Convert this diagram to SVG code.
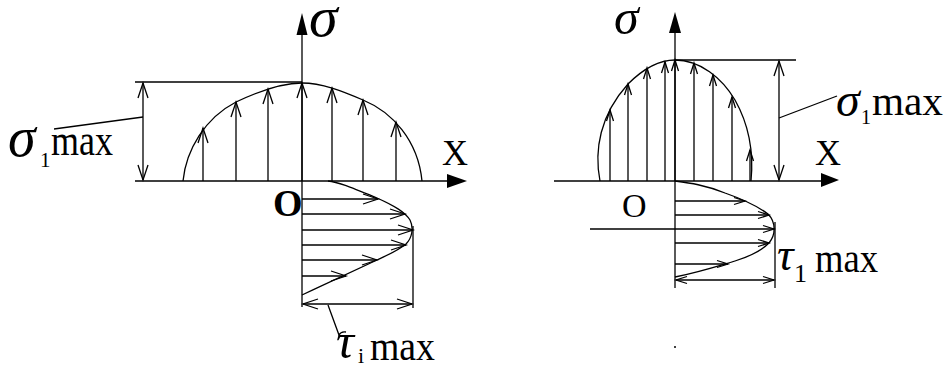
<svg xmlns="http://www.w3.org/2000/svg" width="952" height="365" viewBox="0 0 952 365">
<defs>
<style>
.ln{stroke:#000;stroke-width:1.3;fill:none}
.t{font-family:"Liberation Serif","Times New Roman",serif;fill:#000}
.it{font-style:italic}
.la{marker-end:url(#big)}
.sa{marker-end:url(#small)}
.dl{marker-start:url(#big);marker-end:url(#big)}
.ds{marker-start:url(#small);marker-end:url(#small)}
</style>
<marker id="big" markerUnits="userSpaceOnUse" markerWidth="20" markerHeight="14" refX="0" refY="0" viewBox="-16 -7 20 14" orient="auto-start-reverse" overflow="visible">
<path d="M-15,-5 L0,0 L-15,5" fill="none" stroke="#000" stroke-width="1.3"/>
</marker>
<marker id="small" markerUnits="userSpaceOnUse" markerWidth="14" markerHeight="10" refX="0" refY="0" viewBox="-12 -5 14 10" orient="auto-start-reverse" overflow="visible">
<path d="M-11,-3.5 L0,0 L-11,3.5" fill="none" stroke="#000" stroke-width="1.3"/>
</marker>
</defs>
<rect width="952" height="365" fill="#fff"/>

<g id="left-axes">
<line class="ln" x1="302" y1="30" x2="302" y2="307"/>
<polygon points="302,13 296.5,35 307.5,35" fill="#000"/>
<line class="ln" x1="135" y1="181" x2="450" y2="181"/>
<polygon points="467,181 447,174 447,188" fill="#000"/>
<text class="t it" x="309" y="36" font-size="58">σ</text>
<text class="t" x="442" y="165" font-size="36">X</text>
<text class="t" x="273" y="216" font-size="38" font-weight="bold">O</text>
</g>

<g id="left-sigma">
<path class="ln" d="M183,181 C186,150 205,118 236,102 C255,93 280,83 302,83 C322,83 342,91 363,100 C392,112 418,140 422,181"/>
<line class="ln la" x1="203" y1="181" x2="203" y2="128"/>
<line class="ln la" x1="236" y1="181" x2="236" y2="102"/>
<line class="ln la" x1="268" y1="181" x2="268" y2="89"/>
<line class="ln la" x1="302" y1="181" x2="302" y2="83"/>
<line class="ln la" x1="332" y1="181" x2="332" y2="88"/>
<line class="ln la" x1="363" y1="181" x2="363" y2="100"/>
<line class="ln la" x1="396" y1="181" x2="396" y2="122"/>
</g>

<g id="left-sigma-max">
<line class="ln" x1="135" y1="82" x2="302" y2="82"/>
<line class="ln dl" x1="143" y1="83" x2="143" y2="180"/>
<line class="ln" x1="143" y1="117" x2="54" y2="129"/>
<text class="t it" x="8" y="156" font-size="56">σ</text>
<text class="t" x="40" y="167" font-size="21">1</text>
<text class="t" x="51" y="155" font-size="44" textLength="62" lengthAdjust="spacingAndGlyphs">max</text>
</g>

<g id="left-tau">
<path class="ln" d="M328,181 C338,182 350,187 377,198 C395,206 405,212 410,220 C414,228 412,238 406,244 C396,252 385,256 377,260 C360,268 330,282 302,295"/>
<line class="ln la" x1="302" y1="199" x2="378" y2="199"/>
<line class="ln la" x1="302" y1="214" x2="405" y2="214"/>
<line class="ln la" x1="302" y1="230" x2="413" y2="230"/>
<line class="ln la" x1="302" y1="245" x2="406" y2="245"/>
<line class="ln la" x1="302" y1="260" x2="377" y2="260"/>
<line class="ln la" x1="302" y1="276" x2="346" y2="276"/>
</g>

<g id="left-tau-max">
<line class="ln" x1="413" y1="226" x2="413" y2="308"/>
<line class="ln dl" x1="303" y1="304" x2="412" y2="304"/>
<path class="ln" d="M328,305 L339,335 Q341,331 346,332"/>
<text class="t it" x="336" y="358" font-size="50">τ</text>
<text class="t" x="358" y="363" font-size="22">i</text>
<text class="t" x="370" y="360" font-size="42" textLength="65" lengthAdjust="spacingAndGlyphs">max</text>
</g>

<g id="right-axes">
<line class="ln" x1="675" y1="30" x2="675" y2="288"/>
<polygon points="675,12 669,33 681,33" fill="#000"/>
<line class="ln" x1="554" y1="181" x2="823" y2="181"/>
<polygon points="839,180 821,173 821,187" fill="#000"/>
<text class="t it" x="614" y="34" font-size="50">σ</text>
<text class="t" x="815" y="165" font-size="36">X</text>
<text class="t" x="622" y="217" font-size="34">O</text>
<line class="ln" x1="590" y1="229" x2="675" y2="229"/>
<circle cx="675" cy="347" r="1" fill="#000"/>
</g>

<g id="right-sigma">
<path class="ln" d="M600,181 C594,150 600,115 628,84 C645,67 660,60 675,60 C700,60 722,78 735,100 C748,123 754,150 751,181"/>
<line class="ln sa" x1="610" y1="181" x2="610" y2="110"/>
<line class="ln sa" x1="628" y1="181" x2="628" y2="84"/>
<line class="ln sa" x1="647" y1="181" x2="647" y2="68"/>
<line class="ln sa" x1="665" y1="181" x2="665" y2="62"/>
<line class="ln sa" x1="675" y1="181" x2="675" y2="60"/>
<line class="ln sa" x1="694" y1="181" x2="694" y2="63"/>
<line class="ln sa" x1="713" y1="181" x2="713" y2="75"/>
<line class="ln sa" x1="732" y1="181" x2="732" y2="97"/>
<line class="ln sa" x1="750" y1="181" x2="750" y2="150"/>
</g>

<g id="right-sigma-max">
<line class="ln" x1="675" y1="60" x2="796" y2="60"/>
<line class="ln dl" x1="779" y1="61" x2="779" y2="180"/>
<line class="ln" x1="779" y1="118" x2="837" y2="96"/>
<text class="t it" x="836" y="116" font-size="48">σ</text>
<text class="t" x="861" y="124" font-size="20">1</text>
<text class="t" x="872" y="115" font-size="40" textLength="71" lengthAdjust="spacingAndGlyphs">max</text>
</g>

<g id="right-tau">
<path class="ln" d="M675,181 C690,183 705,185 725,193 C745,200 760,208 768,214 C776,222 776,235 769,243 C760,252 748,257 735,261 C718,266 700,272 675,277"/>
<line class="ln sa" x1="675" y1="201" x2="745" y2="201"/>
<line class="ln sa" x1="675" y1="215" x2="769" y2="215"/>
<line class="ln sa" x1="675" y1="229" x2="774" y2="229"/>
<line class="ln sa" x1="675" y1="243" x2="769" y2="243"/>
<line class="ln sa" x1="675" y1="264" x2="728" y2="264"/>
</g>

<g id="right-tau-max">
<line class="ln" x1="775" y1="222" x2="775" y2="288"/>
<line class="ln ds" x1="676" y1="280" x2="774" y2="280"/>
<text class="t it" x="777" y="270" font-size="46">τ</text>
<text class="t" x="794" y="282" font-size="26">1</text>
<text class="t" x="815" y="272" font-size="40" textLength="63" lengthAdjust="spacingAndGlyphs">max</text>
</g>
</svg>
